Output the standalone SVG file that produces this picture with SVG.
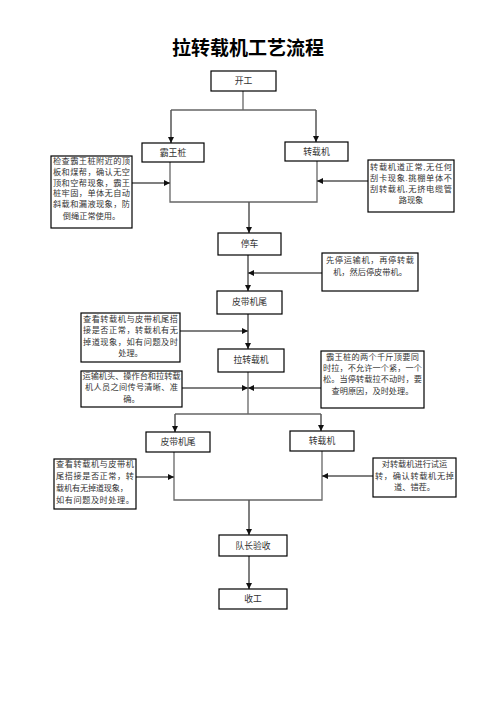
<svg xmlns="http://www.w3.org/2000/svg" width="496" height="702" viewBox="0 0 496 702">
<style>
.box{fill:#fff;stroke:#000;stroke-width:1.2}
.t{font-family:"Liberation Serif","Noto Sans CJK SC",serif;font-size:8.2px;fill:#333}
.lbl{font-family:"Liberation Serif","Noto Sans CJK SC",serif;font-size:8.8px;fill:#333;text-anchor:middle}
.c{text-anchor:middle}
.ln{fill:none;stroke:#666;stroke-width:1.3}
.ar{fill:none;stroke:#555;stroke-width:1.5;marker-end:url(#ah)}
.title{font-family:"Liberation Serif","Noto Sans CJK SC",serif;font-size:19px;font-weight:bold;fill:#000;text-anchor:middle}
</style>
<defs>
<marker id="ah" markerUnits="userSpaceOnUse" markerWidth="6" markerHeight="6" refX="6" refY="3" orient="auto">
<path d="M0,0 L6,3 L0,6 z" fill="#111"/>
</marker>
</defs>
<rect width="496" height="702" fill="#fff"/>
<text class="title" x="248" y="55">拉转载机工艺流程</text>

<g id="connectors">
<path class="ln" d="M243,91 V110 M171,110 H316"/>
<path class="ar" d="M171,110 V143"/>
<path class="ar" d="M316,110 V142"/>
<path class="ln" d="M170,162 V202 H317 V161"/>
<path class="ar" d="M249,202 V233"/>
<path class="ar" d="M132,183 H170"/>
<path class="ar" d="M368,181 H317"/>
<path class="ar" d="M248,255 V291"/>
<path class="ar" d="M322,273 H248"/>
<path class="ar" d="M248,314 V349"/>
<path class="ar" d="M180,331 H248"/>
<path class="ln" d="M248,372 V414 M175,414 H321"/>
<path class="ar" d="M175,414 V432"/>
<path class="ar" d="M321,414 V431"/>
<path class="ar" d="M182,388 H248"/>
<path class="ar" d="M321,388 H248"/>
<path class="ln" d="M174,452 V500 H322 V451"/>
<path class="ar" d="M249,500 V535"/>
<path class="ar" d="M136,477 H174"/>
<path class="ar" d="M373,476 H322"/>
<path class="ar" d="M249,556 V589"/>
</g>

<g id="n-start"><rect class="box" x="211" y="71" width="65" height="20"/><text class="lbl" x="243.5" y="84">开工</text></g>
<g id="n-bawangzhuang"><rect class="box" x="142" y="143" width="62" height="19"/><text class="lbl" x="173" y="155.5">霸王桩</text></g>
<g id="n-zhuanzaiji1"><rect class="box" x="285" y="142" width="63" height="19"/><text class="lbl" x="316.5" y="154.5">转载机</text></g>

<g id="note-left1"><rect class="box" x="51" y="156" width="81" height="72"/>
<text class="t" x="53" y="164" textLength="77" lengthAdjust="spacing">检查霸王桩附近的顶</text>
<text class="t" x="53" y="175" textLength="77" lengthAdjust="spacing">板和煤帮，确认无空</text>
<text class="t" x="53" y="186" textLength="77" lengthAdjust="spacing">顶和空帮现象，霸王</text>
<text class="t" x="53" y="196" textLength="77" lengthAdjust="spacing">桩牢固，单体无自动</text>
<text class="t" x="53" y="207" textLength="77" lengthAdjust="spacing">斜载和漏液现象，防</text>
<text class="t c" x="91.5" y="219">倒绳正常使用。</text>
</g>

<g id="note-right1"><rect class="box" x="368" y="160" width="86" height="52"/>
<text class="t" x="370" y="170" textLength="82" lengthAdjust="spacing">转载机道正常,无任何</text>
<text class="t" x="370" y="181" textLength="82" lengthAdjust="spacing">刮卡现象.挑棚单体不</text>
<text class="t" x="370" y="192" textLength="82" lengthAdjust="spacing">刮转载机,无挤电缆管</text>
<text class="t c" x="411" y="203">路现象</text>
</g>

<g id="n-tingche"><rect class="box" x="218" y="233" width="63" height="22"/><text class="lbl" x="249.5" y="247">停车</text></g>

<g id="note-stop"><rect class="box" x="322" y="253" width="96" height="38"/>
<text class="t" x="326" y="263" textLength="88" lengthAdjust="spacing">先停运输机，再停转载</text>
<text class="t c" x="370" y="275">机，然后停皮带机。</text>
</g>

<g id="n-pidai1"><rect class="box" x="217" y="291" width="65" height="23"/><text class="lbl" x="249.5" y="305">皮带机尾</text></g>

<g id="note-check1"><rect class="box" x="81" y="313" width="99" height="49"/>
<text class="t" x="83" y="322" textLength="95" lengthAdjust="spacing">查看转载机与皮带机尾搭</text>
<text class="t" x="83" y="333" textLength="95" lengthAdjust="spacing">接是否正常，转载机有无</text>
<text class="t" x="83" y="345" textLength="95" lengthAdjust="spacing">掉道现象，如有问题及时</text>
<text class="t c" x="130.5" y="356">处理。</text>
</g>

<g id="n-lazhuanzaiji"><rect class="box" x="218" y="349" width="66" height="23"/><text class="lbl" x="251" y="363">拉转载机</text></g>

<g id="note-jack"><rect class="box" x="321" y="351" width="103" height="57"/>
<text class="t" x="326" y="360" textLength="93" lengthAdjust="spacing">霸王桩的两个千斤顶要同</text>
<text class="t" x="323" y="371" textLength="99" lengthAdjust="spacing">时拉，不允许一个紧，一个</text>
<text class="t" x="323" y="382" textLength="99" lengthAdjust="spacing">松。当停转载拉不动时，要</text>
<text class="t c" x="372.5" y="394">查明原因，及时处理。</text>
</g>

<g id="note-signal"><rect class="box" x="81" y="371" width="101" height="36"/>
<text class="t" x="82.5" y="379" textLength="98" lengthAdjust="spacing">运输机头、操作台和拉转载</text>
<text class="t" x="85" y="390" textLength="93" lengthAdjust="spacing">机人员之间传号清晰、准</text>
<text class="t c" x="131.5" y="402">确。</text>
</g>

<g id="n-pidai2"><rect class="box" x="146" y="432" width="64" height="20"/><text class="lbl" x="178" y="445">皮带机尾</text></g>
<g id="n-zhuanzaiji2"><rect class="box" x="290" y="431" width="64" height="20"/><text class="lbl" x="322" y="444">转载机</text></g>

<g id="note-check2"><rect class="box" x="54" y="459" width="82" height="50"/>
<text class="t" x="56" y="467" textLength="78" lengthAdjust="spacing">查看转载机与皮带机</text>
<text class="t" x="56" y="479" textLength="78" lengthAdjust="spacing">尾搭接是否正常，转</text>
<text class="t" x="56" y="491" textLength="72" lengthAdjust="spacing">载机有无掉道现象，</text>
<text class="t" x="56" y="503" textLength="78" lengthAdjust="spacing">如有问题及时处理。</text>
</g>

<g id="note-test"><rect class="box" x="373" y="458" width="83" height="39"/>
<text class="t c" x="414.5" y="467">对转载机进行试运</text>
<text class="t" x="375" y="479" textLength="79" lengthAdjust="spacing">转，确认转载机无掉</text>
<text class="t c" x="414.5" y="490">道、错茬。</text>
</g>

<g id="n-yanshou"><rect class="box" x="219" y="535" width="68" height="21"/><text class="lbl" x="253" y="549">队长验收</text></g>
<g id="n-end"><rect class="box" x="219" y="589" width="68" height="20"/><text class="lbl" x="253" y="602">收工</text></g>
</svg>
